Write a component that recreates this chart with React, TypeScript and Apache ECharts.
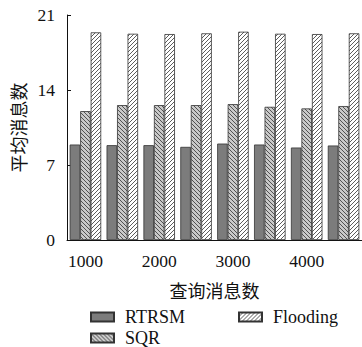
import React, { useEffect, useRef } from "react";
import * as echarts from "echarts";

const categories = ["1000", "1500", "2000", "2500", "3000", "3500", "4000", "4500"];
const rtrsmValues = [8.91, 8.85, 8.85, 8.69, 9.0, 8.91, 8.63, 8.82];
const sqrValues = [12.03, 12.59, 12.59, 12.59, 12.68, 12.43, 12.28, 12.5];
const floodingValues = [19.38, 19.25, 19.22, 19.29, 19.44, 19.25, 19.22, 19.29];
const yTicks = { min: 0, max: 21, interval: 7 };

function makeHatch(bg: string, dir: "back" | "fwd") {
  const s = 4;
  const c = document.createElement("canvas");
  c.width = s;
  c.height = s;
  const ctx = c.getContext("2d")!;
  ctx.fillStyle = bg;
  ctx.fillRect(0, 0, s, s);
  ctx.strokeStyle = "#333";
  ctx.lineWidth = 0.8;
  for (let k = -1; k <= 1; k++) {
    ctx.beginPath();
    if (dir === "back") {
      ctx.moveTo(k * s, 0);
      ctx.lineTo(k * s + s, s);
    } else {
      ctx.moveTo(k * s, s);
      ctx.lineTo(k * s + s, 0);
    }
    ctx.stroke();
  }
  return { image: c, repeat: "repeat", imageWidth: s, imageHeight: s } as any;
}

export default function App() {
  const ref = useRef<HTMLDivElement>(null);
  useEffect(() => {
    const chart = echarts.init(ref.current!, null, { renderer: "svg" });
    const serif = "'Liberation Serif', serif";
    const cjk = "'Noto Sans CJK SC', sans-serif";
    const barCommon = {
      type: "bar",
      barWidth: 10.5,
      barGap: "0%",
    };
    const legendCommon = {
      icon: "rect",
      itemWidth: 23,
      itemHeight: 9,
      padding: 0,
      textStyle: { fontFamily: serif, fontSize: 18, color: "#111", padding: [0, 0, 0, 6] },
    };
    chart.setOption({
      animation: false,
      backgroundColor: "#fff",
      grid: { left: 67, top: 15, bottom: 107, right: -6, containLabel: false },
      legend: [
        { ...legendCommon, data: ["RTRSM"], left: 90, top: 308 },
        { ...legendCommon, data: ["Flooding"], left: 238, top: 308 },
        { ...legendCommon, data: ["SQR"], left: 90, top: 329 },
      ],
      xAxis: {
        type: "category",
        data: categories,
        name: "查询消息数",
        nameLocation: "middle",
        nameGap: 41,
        nameTextStyle: { fontFamily: cjk, fontSize: 18, color: "#111" },
        axisLine: { show: true, lineStyle: { color: "#111", width: 1 } },
        axisTick: { show: true, inside: true, alignWithLabel: true, interval: 1, length: 4, lineStyle: { color: "#111" } },
        axisLabel: { interval: 1, margin: 12, fontFamily: serif, fontSize: 17.5, color: "#111" },
        splitLine: { show: false },
      },
      yAxis: {
        type: "value",
        min: yTicks.min,
        max: yTicks.max,
        interval: yTicks.interval,
        name: "平均消息数",
        nameLocation: "middle",
        nameGap: 40,
        nameRotate: 90,
        nameTextStyle: { fontFamily: cjk, fontSize: 18, color: "#111" },
        axisLine: { show: true, lineStyle: { color: "#111", width: 1 } },
        axisTick: { show: true, inside: true, length: 4, lineStyle: { color: "#111" } },
        axisLabel: { margin: 12, fontFamily: serif, fontSize: 17.5, color: "#111" },
        splitLine: { show: false },
      },
      series: [
        {
          ...barCommon,
          name: "RTRSM",
          data: rtrsmValues,
          itemStyle: { color: "#7c7c7c", borderColor: "#333", borderWidth: 0.8 },
        },
        {
          ...barCommon,
          name: "SQR",
          data: sqrValues,
          itemStyle: { color: makeHatch("#c9c9c9", "back"), borderColor: "#333", borderWidth: 0.8 },
        },
        {
          ...barCommon,
          name: "Flooding",
          data: floodingValues,
          itemStyle: { color: makeHatch("#ffffff", "fwd"), borderColor: "#333", borderWidth: 0.8 },
        },
      ],
    });
    return () => chart.dispose();
  }, []);
  return (
    <div
      ref={ref}
      style={{ position: "fixed", left: 0, top: 0, width: 362, height: 347 }}
    />
  );
}
